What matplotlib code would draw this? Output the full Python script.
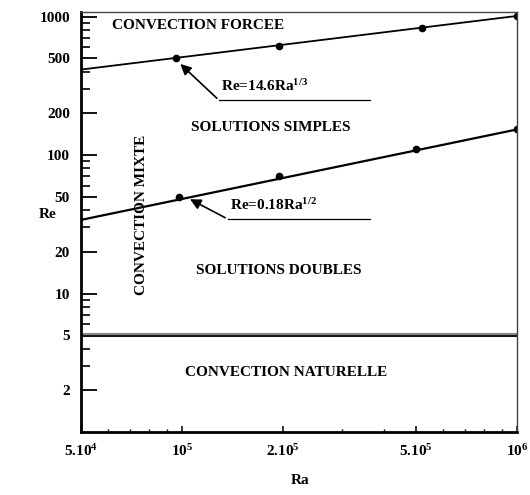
import matplotlib.pyplot as plt
from matplotlib.ticker import FixedLocator, NullFormatter

plt.rcParams['font.family'] = 'Liberation Serif'
plt.rcParams['font.weight'] = 'bold'
plt.rcParams['mathtext.fontset'] = 'custom'
plt.rcParams['mathtext.rm'] = 'Liberation Serif:bold'
plt.rcParams['mathtext.it'] = 'Liberation Serif:bold'
plt.rcParams['mathtext.bf'] = 'Liberation Serif:bold'

# Données
ra_ticks = [5e4, 1e5, 2e5, 5e5, 1e6]
ra_labels = ['$5.10^{4}$', '$10^{5}$', '$2.10^{5}$', '$5.10^{5}$', '$10^{6}$']
re_ticks = [2, 5, 10, 20, 50, 100, 200, 500, 1000]
re_minor = [3, 4, 6, 7, 8, 9, 30, 40, 60, 70, 80, 90, 300, 400, 600, 700, 800, 900]

# droite Re = 14.6 Ra^(1/3) (tracee) et points
forcee_line_ra = [5e4, 1e6]
forcee_line_re = [414, 1010]
forcee_pts_ra = [9.6e4, 1.95e5, 5.2e5, 1e6]
forcee_pts_re = [500, 610, 830, 1010]

# droite Re = 0.18 Ra^(1/2) (tracee) et points
mixte_line_ra = [5e4, 1e6]
mixte_line_re = [34, 153]
mixte_pts_ra = [9.8e4, 1.95e5, 5e5, 1e6]
mixte_pts_re = [50, 70, 110, 153]

re_naturelle = 5

fig = plt.figure(figsize=(5.3, 4.95), dpi=100)
ax = fig.add_axes([0.1528, 0.1273, 0.8226, 0.8475])
ax.set_xscale('log')
ax.set_yscale('log')
ax.set_xlim(5e4, 1e6)
ax.set_ylim(1, 1070)

ax.plot(forcee_line_ra, forcee_line_re, color='black', lw=1.3)
ax.plot(forcee_pts_ra, forcee_pts_re, 'o', color='black', ms=4.5)
ax.plot(mixte_line_ra, mixte_line_re, color='black', lw=1.6)
ax.plot(mixte_pts_ra, mixte_pts_re, 'o', color='black', ms=4.5)
ax.axhline(re_naturelle, color='#888888', lw=3)
ax.axhline(re_naturelle * 0.985, color='black', lw=1.2)

# fleches et legendes des correlations
ax.annotate('', xy=(9.76e4, 469), xytext=(1.29e5, 249),
            arrowprops=dict(arrowstyle='-|>', color='black', lw=1.2, mutation_scale=16))
ax.plot([1.29e5, 3.64e5], [249, 249], color='black', lw=0.9)
ax.text(1.31e5, 290, 'Re=14.6Ra$^{1/3}$', fontsize=11, va='baseline', ha='left')

ax.annotate('', xy=(1.04e5, 49), xytext=(1.37e5, 34.5),
            arrowprops=dict(arrowstyle='-|>', color='black', lw=1.2, mutation_scale=16))
ax.plot([1.37e5, 3.64e5], [34.5, 34.5], color='black', lw=0.9)
ax.text(1.39e5, 40, 'Re=0.18Ra$^{1/2}$', fontsize=11, va='baseline', ha='left')

# zones
ax.text(0.269, 0.968, 'CONVECTION FORCEE', transform=ax.transAxes, fontsize=11, ha='center', va='center')
ax.text(0.436, 0.725, 'SOLUTIONS SIMPLES', transform=ax.transAxes, fontsize=11, ha='center', va='center')
ax.text(0.453, 0.386, 'SOLUTIONS DOUBLES', transform=ax.transAxes, fontsize=11, ha='center', va='center')
ax.text(0.470, 0.141, 'CONVECTION NATURELLE', transform=ax.transAxes, fontsize=11, ha='center', va='center')
ax.text(0.138, 0.517, 'CONVECTION MIXTE', transform=ax.transAxes, fontsize=11, ha='center', va='center',
        rotation=90)

ax.xaxis.set_major_locator(FixedLocator(ra_ticks))
ax.set_xticklabels(ra_labels)
ax.xaxis.set_minor_formatter(NullFormatter())
ax.yaxis.set_major_locator(FixedLocator(re_ticks))
ax.set_yticklabels([str(v) for v in re_ticks])
ax.yaxis.set_minor_locator(FixedLocator(re_minor))
ax.yaxis.set_minor_formatter(NullFormatter())

ax.tick_params(axis='y', which='major', direction='in', length=11.5, width=1.3, labelsize=11, pad=8)
ax.tick_params(axis='y', which='minor', direction='in', length=6.5, width=1.2)
ax.tick_params(axis='x', which='major', direction='in', length=4, width=1.1, labelsize=11, pad=8)
ax.tick_params(axis='x', which='minor', direction='in', length=2.5, width=1)

for side in ['left', 'bottom']:
    ax.spines[side].set_linewidth(2)
for side in ['top', 'right']:
    ax.spines[side].set_linewidth(1)
    ax.spines[side].set_color('#444444')

fig.text(48 / 530, 1 - 215 / 495, 'Re', fontsize=11, ha='center', va='center')
fig.text(300 / 530, 1 - 480 / 495, 'Ra', fontsize=11, ha='center', va='center')

fig.savefig('out.png', dpi=100)
